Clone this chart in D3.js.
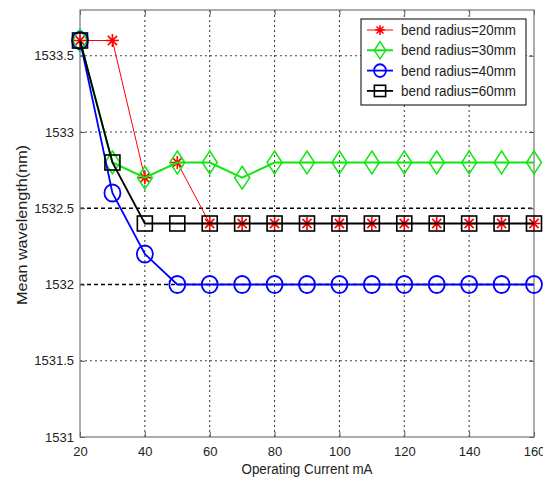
<!DOCTYPE html>
<html><head><meta charset="utf-8">
<script src="https://cdn.jsdelivr.net/npm/d3@7"></script>
<style>
body{margin:0;background:#fff;}
text{font-family:"Liberation Sans",Arial,sans-serif;fill:#222;}
</style></head><body>
<svg id="c" width="543" height="482"></svg>
<script>
const currents = [20,30,40,50,60,70,80,90,100,110,120,130,140,150,160];
const r20 = [1533.6,1533.6,1532.7,1532.8,1532.4,1532.4,1532.4,1532.4,1532.4,1532.4,1532.4,1532.4,1532.4,1532.4,1532.4];
const r30 = [1533.6,1532.8,1532.7,1532.8,1532.8,1532.7,1532.8,1532.8,1532.8,1532.8,1532.8,1532.8,1532.8,1532.8,1532.8];
const r40 = [1533.6,1532.6,1532.2,1532.0,1532.0,1532.0,1532.0,1532.0,1532.0,1532.0,1532.0,1532.0,1532.0,1532.0,1532.0];
const r60 = [1533.6,1532.8,1532.4,1532.4,1532.4,1532.4,1532.4,1532.4,1532.4,1532.4,1532.4,1532.4,1532.4,1532.4,1532.4];
const seriesNames = ["bend radius=20mm","bend radius=30mm","bend radius=40mm","bend radius=60mm"];
const xTicks = [20,40,60,80,100,120,140,160];
const yTicks = [1531,1531.5,1532,1532.5,1533,1533.5];
const xLabel = "Operating Current mA";
const yLabel = "Mean wavelength(nm)";

const series = [
  {name:seriesNames[0], values:r20, color:"#ff0000", width:1, marker:"star"},
  {name:seriesNames[1], values:r30, color:"#11e611", width:2, marker:"diamond"},
  {name:seriesNames[2], values:r40, color:"#0000ff", width:1.8, marker:"circle"},
  {name:seriesNames[3], values:r60, color:"#000000", width:1.8, marker:"square"}
];

const L=80,R=534,T=10,B=437;
const svg = d3.select("#c");
const x = d3.scaleLinear().domain([20,160]).range([L,R]);
const y = d3.scaleLinear().domain([1531,1533.8]).range([B,T]);

// grid
const g = svg.append("g");
g.selectAll("line.vx").data(xTicks.slice(1,-1)).enter().append("line")
  .attr("x1",d=>x(d)).attr("x2",d=>x(d)).attr("y1",T).attr("y2",B)
  .attr("stroke","#333").attr("stroke-width",1).attr("stroke-dasharray","2,3");
g.selectAll("line.hy").data(yTicks.slice(1)).enter().append("line")
  .attr("x1",L).attr("x2",R).attr("y1",d=>y(d)).attr("y2",d=>y(d))
  .attr("stroke",d=>(d===1532||d===1532.5)?"#000":"#444")
  .attr("stroke-width",d=>(d===1532||d===1532.5)?1.4:1)
  .attr("stroke-dasharray",d=>(d===1532||d===1532.5)?"4,3":"2,3");

// axes
const xAxis = d3.axisBottom(x).tickValues(xTicks).tickSize(-5).tickPadding(10).tickFormat(d3.format("d"));
const yAxis = d3.axisLeft(y).tickValues(yTicks).tickSize(-5).tickPadding(6).tickFormat(d=>d3.format("")(d));
const xa = svg.append("g").attr("transform",`translate(0,${B})`).call(xAxis);
const ya = svg.append("g").attr("transform",`translate(${L},0)`).call(yAxis);
const xt = svg.append("g").attr("transform",`translate(0,${T})`).call(d3.axisTop(x).tickValues(xTicks).tickSize(-5).tickFormat(""));
const yr = svg.append("g").attr("transform",`translate(${R},0)`).call(d3.axisRight(y).tickValues(yTicks).tickSize(-5).tickFormat(""));
[xa,ya,xt,yr].forEach(a=>{
  a.select(".domain").remove();
  a.selectAll(".tick line").attr("stroke","#555");
  a.selectAll(".tick text").attr("font-size",13).attr("fill","#222")
   .style("font-family",'"Liberation Sans",Arial,sans-serif');
});
svg.append("rect").attr("x",L).attr("y",T).attr("width",R-L).attr("height",B-T)
  .attr("fill","none").attr("stroke","#777").attr("stroke-width",1.2);

// markers
function marker(sel, type, color, s){
  s = s||1;
  if(type==="star"){
    const a=6.5*s, b=4.6*s;
    sel.append("path").attr("d",`M${-a},0L${a},0M0,${-a}L0,${a}M${-b},${-b}L${b},${b}M${-b},${b}L${b},${-b}`)
      .attr("stroke",color).attr("stroke-width",1.6).attr("fill","none");
  } else if(type==="diamond"){
    const w=7.5*s,h=11.5*s;
    sel.append("path").attr("d",`M0,${-h}L${w},0L0,${h}L${-w},0Z`)
      .attr("stroke",color).attr("stroke-width",1.5).attr("fill","none");
  } else if(type==="circle"){
    sel.append("ellipse").attr("rx",8*s).attr("ry",8.5*s)
      .attr("stroke",color).attr("stroke-width",1.8).attr("fill","none");
  } else if(type==="square"){
    const h=7.5*s;
    sel.append("rect").attr("x",-h).attr("y",-h).attr("width",2*h).attr("height",2*h)
      .attr("stroke",color).attr("stroke-width",1.6).attr("fill","none");
  }
}

const line = d3.line().x((d,i)=>x(currents[i])).y(d=>y(d));
series.forEach(s=>{
  svg.append("path").attr("d",line(s.values)).attr("fill","none")
    .attr("stroke",s.color).attr("stroke-width",s.width);
  s.values.forEach((v,i)=>{
    const m = svg.append("g").attr("transform",`translate(${x(currents[i])},${y(v)})`);
    marker(m,s.marker,s.color);
  });
});

// labels
svg.append("text").attr("x",(L+R)/2).attr("y",474).attr("text-anchor","middle")
  .attr("font-size",14).attr("textLength",131).attr("lengthAdjust","spacingAndGlyphs").text(xLabel);
svg.append("text").attr("transform",`translate(27,225) rotate(-90)`).attr("text-anchor","middle")
  .attr("font-size",14).attr("textLength",160).attr("lengthAdjust","spacingAndGlyphs").text(yLabel);

// legend
const lg = svg.append("g");
lg.append("rect").attr("x",361).attr("y",19).attr("width",165).attr("height",86)
  .attr("fill","#fff").attr("stroke","#000").attr("stroke-width",1);
series.forEach((s,i)=>{
  const yy = 30 + i*20.3;
  lg.append("line").attr("x1",367).attr("x2",393).attr("y1",yy).attr("y2",yy)
    .attr("stroke",s.color).attr("stroke-width",s.width);
  const m = lg.append("g").attr("transform",`translate(380,${yy})`);
  marker(m,s.marker,s.color,0.75);
  lg.append("text").attr("x",401).attr("y",yy+5).attr("font-size",14)
    .attr("textLength",115).attr("lengthAdjust","spacingAndGlyphs").text(s.name);
});
</script>
</body></html>
